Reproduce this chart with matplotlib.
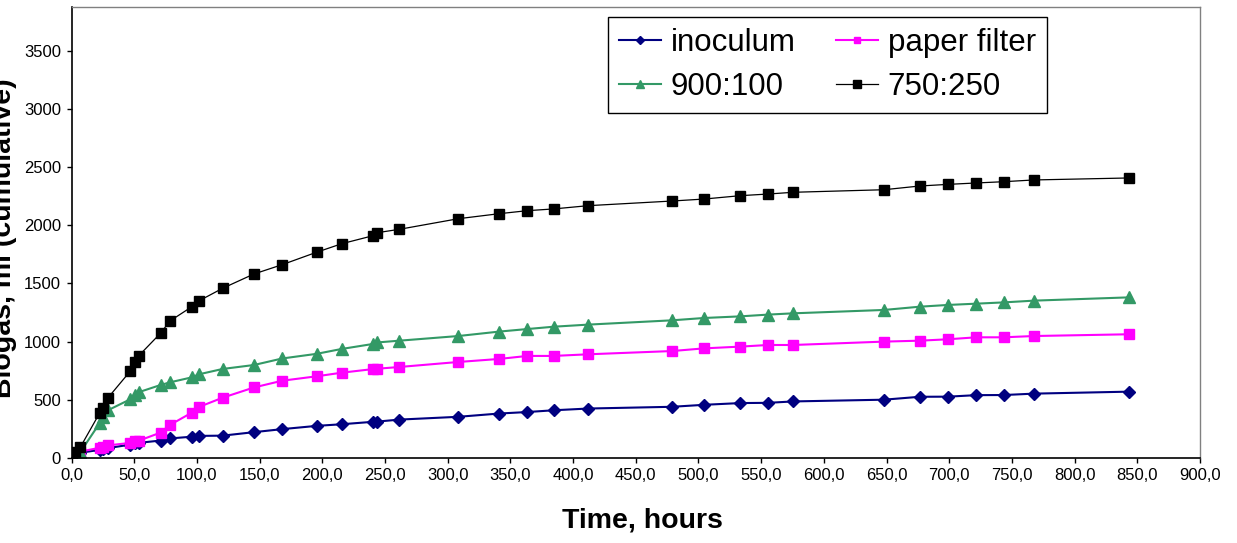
import matplotlib
matplotlib.use("Agg")
import matplotlib.pyplot as plt
from matplotlib.ticker import FuncFormatter, MultipleLocator

plt.rcParams['font.family'] = ['Liberation Sans', 'DejaVu Sans']

# Tiempos de medicion (horas) comunes a todas las series
hours = [0, 3, 7, 22.5, 25, 29, 47, 51, 53.5, 71, 78.5, 96, 102, 120.5,
         145.5, 168, 195.5, 215.5, 240.5, 244, 261.5, 308.5, 341, 363.5,
         384.5, 412, 479, 504.5, 533.5, 555.5, 575.5, 648, 676.5, 699,
         721.5, 743.5, 767.5, 843]

inoculum = [0, 25, 45, 70, 75, 85, 115, 125, 130, 150, 168, 183, 190, 192,
            222, 248, 276, 290, 311, 313, 330, 354, 382, 395, 410, 425, 440,
            457, 472, 474, 486, 501, 526, 527, 540, 541, 553, 570]
paper_filter = [0, 30, 55, 88, 97, 108, 130, 142, 148, 218, 284, 390, 440,
                518, 606, 664, 702, 733, 764, 767, 782, 825, 851, 877, 877,
                891, 919, 942, 957, 971, 971, 1000, 1008, 1020, 1037, 1037,
                1048, 1063]
mix_900_100 = [0, 15, 50, 300, 350, 410, 505, 540, 565, 627, 650, 693, 720,
               765, 799, 855, 895, 937, 980, 993, 1008, 1048, 1086, 1108,
               1128, 1146, 1183, 1203, 1217, 1232, 1243, 1272, 1300, 1315,
               1326, 1337, 1352, 1380]
mix_750_250 = [10, 50, 92, 387, 430, 516, 748, 828, 877, 1072, 1177, 1300,
               1352, 1458, 1581, 1661, 1768, 1841, 1910, 1936, 1965, 2056,
               2099, 2125, 2140, 2168, 2208, 2225, 2254, 2268, 2283, 2305,
               2337, 2351, 2363, 2374, 2389, 2406]

fig = plt.figure(figsize=(12.37, 5.43), dpi=100)
ax = fig.add_axes([71.5 / 1237, 1 - 458 / 543, (1200 - 71.5) / 1237, (458 - 7) / 543])

l1, = ax.plot(hours, inoculum, color='#000080', lw=1.5, marker='D', ms=6,
              label='inoculum')
l2, = ax.plot(hours, paper_filter, color='#FF00FF', lw=1.5, marker='s', ms=7,
              label='paper filter')
l3, = ax.plot(hours, mix_900_100, color='#339966', lw=1.5, marker='^', ms=8,
              label='900:100')
l4, = ax.plot(hours, mix_750_250, color='black', lw=0.9, marker='s', ms=7.5,
              label='750:250')

ax.set_xlim(0, 900)
ax.set_ylim(0, 3875)
ax.xaxis.set_major_locator(MultipleLocator(50))
ax.set_yticks(range(0, 3501, 500))
ax.xaxis.set_major_formatter(FuncFormatter(lambda v, p: f"{v:.1f}".replace('.', ',')))
ax.tick_params(direction='out', length=3.5, width=1, labelsize=12, pad=4)

for s in ['left', 'bottom']:
    ax.spines[s].set_color('black')
    ax.spines[s].set_linewidth(1.2)
for s in ['top', 'right']:
    ax.spines[s].set_color('#808080')
    ax.spines[s].set_linewidth(1.0)

ax.set_xlabel('Time, hours', fontsize=20.5, fontweight='bold')
ax.xaxis.set_label_coords((642 - 71.5) / (1200 - 71.5), -0.11)
fig.text(4 / 1237, 1 - 238 / 543, 'Biogas, ml (cumulative)', rotation=90,
         fontsize=20.5, fontweight='bold', ha='center', va='center')

# leyenda por filas: inoculum, paper filter / 900:100, 750:250
leg = ax.legend([l1, l3, l2, l4], ['inoculum', '900:100', 'paper filter', '750:250'],
                ncol=2, loc='upper left',
                bbox_to_anchor=(608 / 1237, 1 - 17 / 543),
                bbox_transform=fig.transFigure, borderaxespad=0,
                fontsize=22.5, frameon=True, fancybox=False, framealpha=1,
                edgecolor='black', markerscale=0.7, handlelength=1.35,
                handletextpad=0.3, columnspacing=1.3, labelspacing=0.45,
                borderpad=0.35)
leg.get_frame().set_linewidth(1.0)

fig.savefig('out.png', dpi=100)
